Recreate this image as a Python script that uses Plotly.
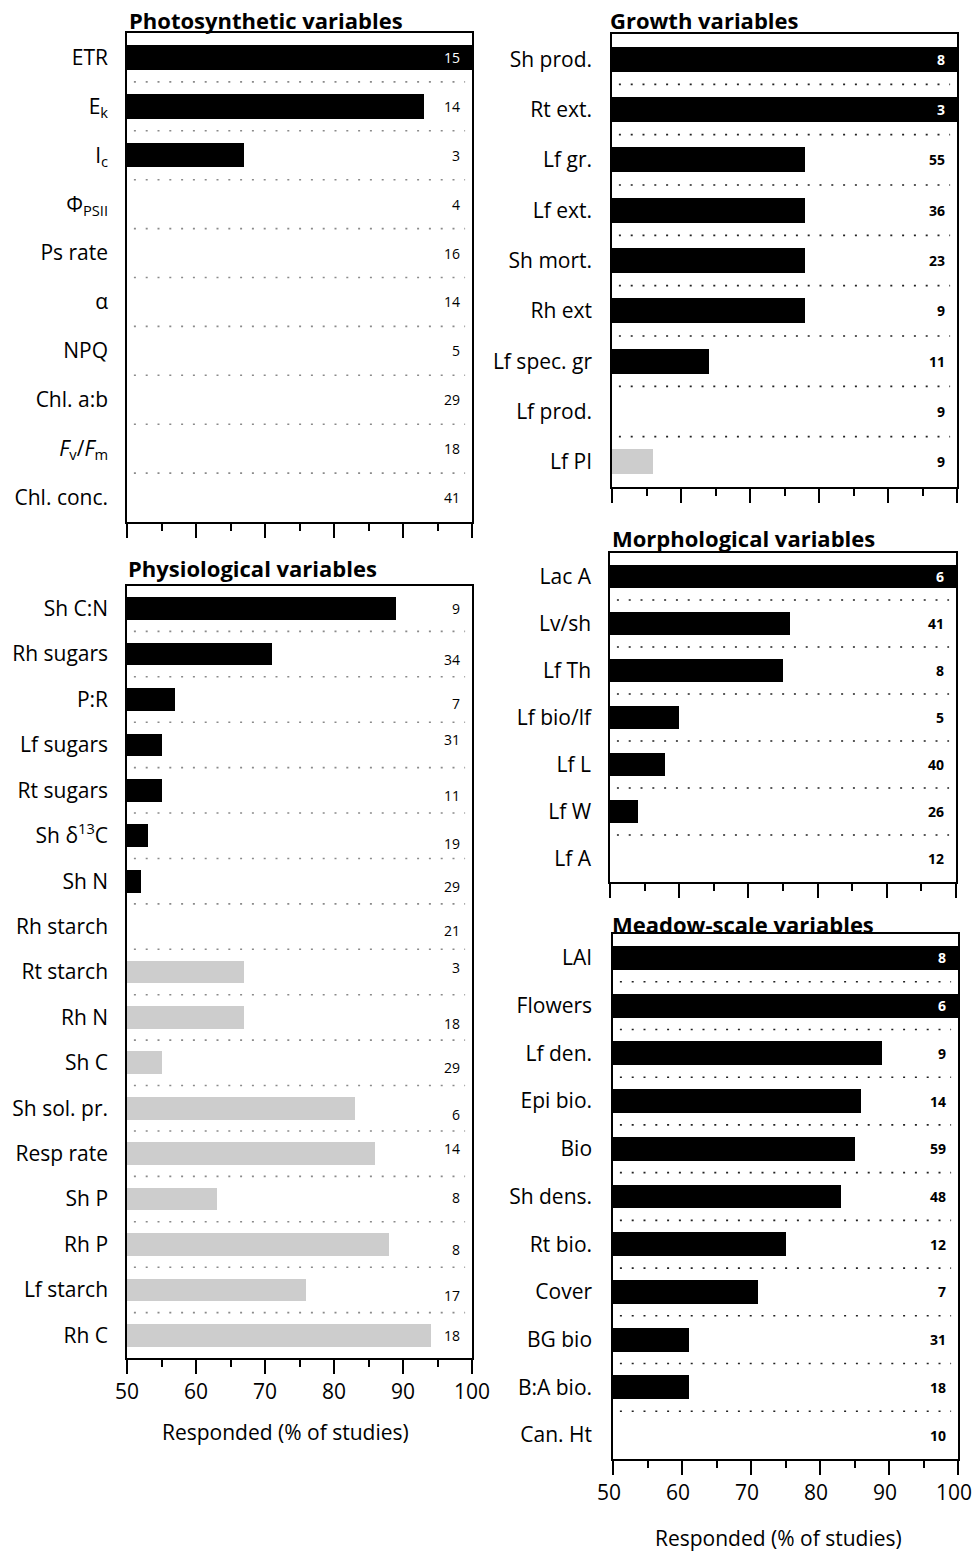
import plotly.graph_objects as go

W, H = 973, 1551
FONT = "Open Sans"

# ---- data -------------------------------------------------------------
photo_vars = ["ETR", "E<sub>k</sub>", "I<sub>c</sub>", "Φ<sub>PSII</sub>", "Ps rate",
              "α", "NPQ", "Chl. a:b", "<i>F</i><sub>v</sub>/<i>F</i><sub>m</sub>", "Chl. conc."]
photo_pct = [100, 93, 67, 50, 50, 50, 50, 50, 50, 50]
photo_n = [15, 14, 3, 4, 16, 14, 5, 29, 18, 41]
photo_sig = [True] * 10

phys_vars = ["Sh C:N", "Rh sugars", "P:R", "Lf sugars", "Rt sugars", "Sh δ<sup>13</sup>C",
             "Sh N", "Rh starch", "Rt starch", "Rh N", "Sh C", "Sh sol. pr.", "Resp rate",
             "Sh P", "Rh P", "Lf starch", "Rh C"]
phys_pct = [89, 71, 57, 55, 55, 53, 52, 50, 67, 67, 55, 83, 86, 63, 88, 76, 94]
phys_n = [9, 34, 7, 31, 11, 19, 29, 21, 3, 18, 29, 6, 14, 8, 8, 17, 18]
phys_sig = [True] * 8 + [False] * 9

growth_vars = ["Sh prod.", "Rt ext.", "Lf gr.", "Lf ext.", "Sh mort.", "Rh ext",
               "Lf spec. gr", "Lf prod.", "Lf PI"]
growth_pct = [100, 100, 78, 78, 78, 78, 64, 50, 56]
growth_n = [8, 3, 55, 36, 23, 9, 11, 9, 9]
growth_sig = [True] * 8 + [False]

morph_vars = ["Lac A", "Lv/sh", "Lf Th", "Lf bio/lf", "Lf L", "Lf W", "Lf A"]
morph_pct = [100, 76, 75, 60, 58, 54, 50]
morph_n = [6, 41, 8, 5, 40, 26, 12]
morph_sig = [True] * 7

meadow_vars = ["LAI", "Flowers", "Lf den.", "Epi bio.", "Bio", "Sh dens.", "Rt bio.",
               "Cover", "BG bio", "B:A bio.", "Can. Ht"]
meadow_pct = [100, 100, 89, 86, 85, 83, 75, 71, 61, 61, 50]
meadow_n = [8, 6, 9, 14, 59, 48, 12, 7, 31, 18, 10]
meadow_sig = [True] * 11

# ---- panel layout (pixel boxes: left, right, top, bottom) --------------
phys_nudge = [0, 5, 4, -5, 5, 8, 5, 4, -4, 6, 5, 6, -5, -2, 5, 6, 0]

panels = [
    dict(title="Photosynthetic variables", names=photo_vars, pct=photo_pct, n=photo_n,
         sig=photo_sig, box=(127, 472, 33, 522), labels=False, title_at=(127, 20),
         dot="#8a8a8a", bold_n=False, nudge=None, gap=13, lshift=0),
    dict(title="Physiological variables", names=phys_vars, pct=phys_pct, n=phys_n,
         sig=phys_sig, box=(127, 472, 586, 1358), labels=True, title_at=(126, 568),
         dot="#8a8a8a", bold_n=False, nudge=phys_nudge, gap=13, lshift=0),
    dict(title="Growth variables", names=growth_vars, pct=growth_pct, n=growth_n,
         sig=growth_sig, box=(612, 957, 34, 487), labels=False, title_at=(608, 20),
         dot="#222222", bold_n=True, nudge=None, gap=14, lshift=0),
    dict(title="Morphological variables", names=morph_vars, pct=morph_pct, n=morph_n,
         sig=morph_sig, box=(610, 956, 553, 882), labels=False, title_at=(610, 538),
         dot="#222222", bold_n=True, nudge=None, gap=13, lshift=0),
    dict(title="Meadow-scale variables", names=meadow_vars, pct=meadow_pct, n=meadow_n,
         sig=meadow_sig, box=(613, 958, 934, 1459), labels=True, title_at=(610, 924),
         dot="#222222", bold_n=True, nudge=None, gap=15, lshift=-4),
]

fig = go.Figure()
annotations = []
shapes = []
layout = {}

for k, p in enumerate(panels, start=1):
    xa = "x" if k == 1 else f"x{k}"
    ya = "y" if k == 1 else f"y{k}"
    xkey = "xaxis" if k == 1 else f"xaxis{k}"
    ykey = "yaxis" if k == 1 else f"yaxis{k}"
    left, right, top, bottom = p["box"]
    nrow = len(p["names"])
    rows = list(range(nrow))

    fig.add_trace(go.Bar(
        x=p["pct"], y=rows, orientation="h", width=0.5,
        marker=dict(color=["black" if s else "#cdcdcd" for s in p["sig"]], line=dict(width=0)),
        xaxis=xa, yaxis=ya, showlegend=False, hoverinfo="skip",
    ))

    layout[xkey] = dict(
        domain=[left / W, right / W], range=[50, 100], anchor=ya, automargin=False,
        showline=True, mirror=True, linecolor="black", linewidth=1.5,
        ticks="outside", ticklen=14, tickwidth=1.5, tickcolor="black",
        tick0=50, dtick=10, showticklabels=p["labels"], ticklabeloverflow="allow",
        ticklabelshift=p["lshift"],
        tickfont=dict(family=FONT, size=21, color="black"),
        minor=dict(ticks="outside", ticklen=7, tickwidth=1.5, tickcolor="black",
                   dtick=5, showgrid=False),
        showgrid=False, zeroline=False,
    )
    layout[ykey] = dict(
        domain=[1 - bottom / H, 1 - top / H], range=[nrow - 0.5, -0.5], anchor=xa,
        automargin=False,
        showline=True, mirror=True, linecolor="black", linewidth=1.5,
        tickmode="array", tickvals=rows, ticktext=p["names"], ticks="",
        ticklabelstandoff=p["gap"], tickfont=dict(family=FONT, size=21, color="black"),
        showgrid=False, zeroline=False,
    )

    # dotted separators between rows
    for i in range(nrow - 1):
        shapes.append(dict(type="line", xref=xa, yref=ya, x0=51, x1=99,
                           y0=i + 0.5, y1=i + 0.5,
                           line=dict(color=p["dot"], width=1.6, dash="2px,9.8px")))

    # number of studies per variable
    for i, (val, cnt) in enumerate(zip(p["pct"], p["n"])):
        shift = p["nudge"][i] if p["nudge"] else 0
        annotations.append(dict(
            x=98.5, y=i, xref=xa, yref=ya, xanchor="right", yanchor="middle",
            text=f"<b>{cnt}</b>" if p["bold_n"] else str(cnt), showarrow=False,
            yshift=-shift,
            font=dict(family=FONT, size=14, color="white" if val >= 98 else "black"),
        ))

    # panel heading
    tx, ty = p["title_at"]
    annotations.append(dict(
        x=tx / W, y=1 - ty / H, xref="paper", yref="paper", xanchor="left",
        yanchor="middle", text=f"<b>{p['title']}</b>", showarrow=False,
        font=dict(family=FONT, size=22, color="black"),
    ))

# x-axis titles under the bottom panels
for cx, cy in [(285, 1432), (778, 1538)]:
    annotations.append(dict(
        x=cx / W, y=1 - cy / H, xref="paper", yref="paper", xanchor="center",
        yanchor="middle", text="Responded (% of studies)", showarrow=False,
        font=dict(family=FONT, size=21, color="black"),
    ))

fig.update_layout(
    width=W, height=H, margin=dict(l=0, r=0, t=0, b=0),
    paper_bgcolor="white", plot_bgcolor="white",
    font=dict(family=FONT, color="black"),
    annotations=annotations, shapes=shapes, bargap=0, **layout,
)

fig.write_html("out.html")
